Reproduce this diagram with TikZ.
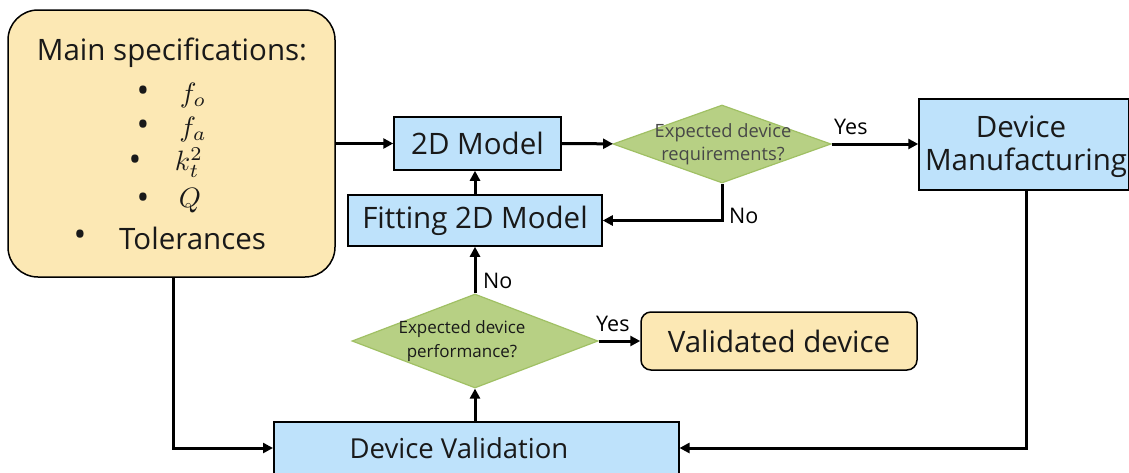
\documentclass[tikz,border=0pt]{standalone}
\usepackage{fontspec}
\setmainfont{Open Sans}
\usetikzlibrary{arrows.meta,shapes.geometric}
\definecolor{specfill}{RGB}{252,232,180}
\definecolor{bluefill}{RGB}{190,226,251}
\definecolor{greenfill}{RGB}{183,208,132}
\definecolor{greendraw}{RGB}{160,192,100}
\definecolor{txt}{RGB}{25,25,25}
\newcommand{\bigmath}[1]{\scalebox{2.8}{$#1$}}
\tikzset{
  bluebox/.style={draw=black, line width=1.5pt, fill=bluefill, inner sep=0pt},
  yellowbox/.style={draw=black, line width=1.5pt, fill=specfill, inner sep=0pt},
  decision/.style={diamond, draw=greendraw, line width=1.2pt, fill=greenfill, inner sep=0pt, aspect=2.3},
  big/.style={font=\fontsize{29.5}{34}\selectfont, text=txt},
  mathtxt/.style={font=\normalsize, text=txt, inner sep=0pt},
  bul/.style={font=\fontsize{34}{34}\selectfont, text=txt, inner sep=0pt},
  small/.style={font=\fontsize{17}{23.5}\selectfont, text=txt, align=center},
  lbl/.style={font=\fontsize{21.5}{24}\selectfont, text=black, inner sep=0pt},
  conn/.style={line width=3pt, -{Triangle[length=10pt,width=10pt]}},
}
\begin{document}
\begin{tikzpicture}[x=1pt,y=-1pt]
\useasboundingbox (0,0) rectangle (1129,472);
% boxes
\node[yellowbox, rounded corners=30pt, minimum width=327pt, minimum height=267pt] (spec) at (171.5,143.5) {};
\node[big, anchor=center] (t1) at (172,53) {Main specifications:};
\node[bul] (b1) at (143,94) {•};
\node[mathtxt] (m1) at (193,95) {\bigmath{f_o}};
\node[bul] (b2) at (143,128) {•};
\node[mathtxt] (m2) at (193,129) {\bigmath{f_a}};
\node[bul] (b3) at (135,163) {•};
\node[mathtxt] (m3) at (189,163) {\bigmath{k_t^2}};
\node[bul] (b4) at (143,201) {•};
\node[mathtxt] (m4) at (190,201) {\bigmath{Q}};
\node[bul] (b5) at (80,238) {•};
\node[big, anchor=west, inner sep=0pt] (tol) at (119,238) {Tolerances};

\node[bluebox, minimum width=167pt, minimum height=53pt, big] (m2d) at (477.5,143.5) {2D Model};
\node[bluebox, minimum width=254pt, minimum height=51pt, big] (fit) at (475,220.5) {Fitting 2D Model};
\node[decision, minimum width=218pt, minimum height=78pt] (d1) at (722,144) {};
\node[small, font=\fontsize{18.3}{23}\selectfont, text=black!72] (d1t) at (723,144) {Expected device\\requirements?};
\node[bluebox, minimum width=210pt, minimum height=91pt] (man) at (1024,144.5) {};
\node[big] (mant1) at (1021,127) {Device};
\node[big] (mant2) at (1026,163) {Manufacturing};
\node[decision, minimum width=246pt, minimum height=94pt] (d2) at (475,341) {};
\node[small] (d2t) at (462,341) {Expected device\\performance?};
\node[yellowbox, rounded corners=10pt, minimum width=276pt, minimum height=58pt, big] (val) at (779,341) {Validated device};
\node[bluebox, minimum width=405pt, minimum height=60pt, anchor=north west] (dv) at (273,421) {};
\node[big, font=\fontsize{27.5}{32}\selectfont] (dvt) at (459,448) {Device Validation};

% connectors
\draw[conn] (spec.east |- m2d.west) -- (m2d.west);
\draw[conn] (m2d) -- (d1);
\draw[conn] (d1) -- (man.west |- d1.east);
\node[lbl, anchor=west] (yes1) at (834,127) {Yes};
\draw[conn] (d1.south) |- (fit.east);
\node[lbl, anchor=west] (no1) at (729,216) {No};
\draw[conn] (fit.north) -- (m2d.south -| fit.north);
\draw[conn] (d2.north) -- (d2.north |- fit.south);
\node[lbl, anchor=west] (no2) at (483,281) {No};
\draw[conn] (d2.east) -- (val.west);
\node[lbl, anchor=west] (yes2) at (596,324) {Yes};
\draw[conn] (d2.south |- dv.north) -- (d2.south);
\coordinate (c1) at (173,448);
\draw[conn] (c1 |- spec.south) -- (c1) -- (dv.west |- c1);
\coordinate (c2) at (1026,448);
\draw[conn] (c2 |- man.south) -- (c2) -- (dv.east |- c2);
\end{tikzpicture}
\end{document}
